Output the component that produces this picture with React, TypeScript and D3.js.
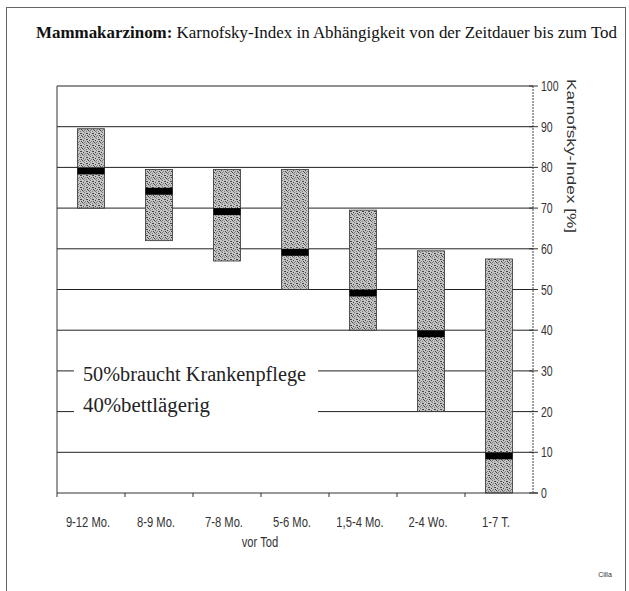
import { useEffect, useRef } from "react";
import * as d3 from "d3";

const categories = ["9-12 Mo.", "8-9 Mo.", "7-8 Mo.", "5-6 Mo.", "1,5-4 Mo.", "2-4 Wo.", "1-7 T."];
const lowValues = [70, 62, 57, 50, 40, 20, 0];
const highValues = [89.5, 79.5, 79.5, 79.5, 69.5, 59.5, 57.5];
const medianValues = [80, 75, 70, 60, 50, 40, 10];
const yTicks = [0, 10, 20, 30, 40, 50, 60, 70, 80, 90, 100];
const notes = ["50%braucht Krankenpflege", "40%bettlägerig"];

// squeeze text horizontally to imitate a narrow typeface
function condense(sel: any, k: number) {
  sel.each(function (this: SVGTextElement) {
    const l = this.getComputedTextLength();
    d3.select(this).attr("textLength", l * k).attr("lengthAdjust", "spacingAndGlyphs");
  });
}

const Chart = () => {
  const svgRef = useRef<SVGSVGElement>(null);

  useEffect(() => {
    const svg = d3.select(svgRef.current);
    svg.selectAll("*").remove();

    const left = 57;
    const right = 533;
    const serif = "'Liberation Serif', 'DejaVu Serif', serif";
    const sans = "'Liberation Sans', Arial, sans-serif";

    const x = d3.scaleBand().domain(categories).range([left, right]).padding(0);
    const y = d3.scaleLinear().domain([0, 100]).range([493, 86]);
    const barW = 27;

    // stipple texture for the bars
    const pat = svg
      .append("defs")
      .append("pattern")
      .attr("id", "stipple")
      .attr("width", 6)
      .attr("height", 6)
      .attr("patternUnits", "userSpaceOnUse");
    pat.append("rect").attr("width", 6).attr("height", 6).attr("fill", "#c4c4c4");
    [[0, 0], [3, 1], [1, 3], [4, 4], [2, 5], [5, 2], [0, 4], [3, 3], [5, 5], [2, 1]].forEach(([px, py], i) => {
      pat
        .append("rect")
        .attr("x", px)
        .attr("y", py)
        .attr("width", 1)
        .attr("height", 1)
        .attr("fill", i % 2 ? "#444" : "#7a7a7a");
    });

    // outer frame
    svg
      .append("rect")
      .attr("x", 6.5)
      .attr("y", 7.5)
      .attr("width", 619)
      .attr("height", 600)
      .attr("fill", "none")
      .attr("stroke", "#666");

    // title
    const title = svg
      .append("text")
      .attr("x", 36)
      .attr("y", 38)
      .attr("font-family", serif)
      .attr("font-size", 17)
      .attr("fill", "#111")
      .attr("textLength", 581)
      .attr("lengthAdjust", "spacingAndGlyphs");
    title.append("tspan").attr("font-weight", "bold").text("Mammakarzinom:");
    title.append("tspan").text(" Karnofsky-Index in Abhängigkeit von der Zeitdauer bis zum Tod");

    // grid lines
    svg
      .append("g")
      .selectAll("line")
      .data(yTicks.filter((t) => t > 0))
      .join("line")
      .attr("x1", left)
      .attr("x2", right)
      .attr("y1", (d) => y(d))
      .attr("y2", (d) => y(d))
      .attr("stroke", "#222")
      .attr("stroke-width", 1);

    // bars
    const g = svg.append("g");
    categories.forEach((c, i) => {
      const cx = (x(c) || 0) + x.bandwidth() / 2;
      g.append("rect")
        .attr("x", cx - barW / 2)
        .attr("y", y(highValues[i]))
        .attr("width", barW)
        .attr("height", y(lowValues[i]) - y(highValues[i]))
        .attr("fill", "url(#stipple)")
        .attr("stroke", "#333")
        .attr("stroke-width", 0.8);
      g.append("rect")
        .attr("x", cx - barW / 2)
        .attr("y", y(medianValues[i]))
        .attr("width", barW)
        .attr("height", 7)
        .attr("fill", "#000");
    });

    // annotation box
    svg
      .append("rect")
      .attr("x", 74)
      .attr("y", 358)
      .attr("width", 244)
      .attr("height", 62)
      .attr("fill", "#fff");
    svg
      .append("g")
      .selectAll("text")
      .data(notes)
      .join("text")
      .attr("x", 83)
      .attr("y", (d, i) => 381 + i * 31)
      .attr("font-family", serif)
      .attr("font-size", 20)
      .attr("fill", "#222")
      .attr("textLength", (d, i) => (i === 0 ? 223 : 127))
      .attr("lengthAdjust", "spacingAndGlyphs")
      .text((d) => d);

    // axes lines
    svg.append("line").attr("x1", left).attr("x2", left).attr("y1", y(100)).attr("y2", 497).attr("stroke", "#333");
    svg.append("line").attr("x1", left).attr("x2", right + 5).attr("y1", y(0)).attr("y2", y(0)).attr("stroke", "#333");
    svg
      .append("line")
      .attr("x1", right)
      .attr("x2", right)
      .attr("y1", y(100))
      .attr("y2", y(0))
      .attr("stroke", "#444")
      .attr("stroke-dasharray", "2,1");

    // right axis ticks + labels
    const ya = svg.append("g");
    ya.selectAll("line")
      .data(yTicks)
      .join("line")
      .attr("x1", right - 4)
      .attr("x2", right + 5)
      .attr("y1", (d) => y(d))
      .attr("y2", (d) => y(d))
      .attr("stroke", "#333");
    const yl = ya
      .selectAll("text")
      .data(yTicks)
      .join("text")
      .attr("x", 541)
      .attr("y", (d) => y(d) + 5)
      .attr("font-family", sans)
      .attr("font-size", 14)
      .attr("fill", "#333")
      .text((d) => d);
    condense(yl, 0.75);

    svg
      .append("text")
      .attr("transform", "translate(567,79) rotate(90)")
      .attr("font-family", sans)
      .attr("font-size", 13)
      .attr("fill", "#333")
      .attr("textLength", 154)
      .attr("lengthAdjust", "spacingAndGlyphs")
      .text("Karnofsky-Index [%]");

    // bottom ticks at band boundaries
    svg
      .append("g")
      .selectAll("line")
      .data(categories.slice(1))
      .join("line")
      .attr("x1", (d) => x(d) || 0)
      .attr("x2", (d) => x(d) || 0)
      .attr("y1", y(0))
      .attr("y2", y(0) + 4)
      .attr("stroke", "#333");

    // category labels
    const xl = svg
      .append("g")
      .selectAll("text")
      .data(categories)
      .join("text")
      .attr("x", (d) => (x(d) || 0) + x.bandwidth() / 2 - 3)
      .attr("y", 527)
      .attr("text-anchor", "middle")
      .attr("font-family", sans)
      .attr("font-size", 14)
      .attr("fill", "#333")
      .text((d) => d);
    condense(xl, 0.8);

    const vt = svg
      .append("text")
      .attr("x", 260)
      .attr("y", 547)
      .attr("text-anchor", "middle")
      .attr("font-family", sans)
      .attr("font-size", 14)
      .attr("fill", "#333")
      .text("vor Tod");
    condense(vt, 0.8);

    svg
      .append("text")
      .attr("x", 605)
      .attr("y", 577)
      .attr("text-anchor", "middle")
      .attr("font-family", sans)
      .attr("font-size", 7)
      .attr("fill", "#333")
      .text("Cilla");
  }, []);

  return (
    <svg
      ref={svgRef}
      width={629}
      height={591}
      style={{ position: "absolute", left: 0, top: 0, background: "#fff" }}
    />
  );
};

export default function App() {
  return <Chart />;
}
